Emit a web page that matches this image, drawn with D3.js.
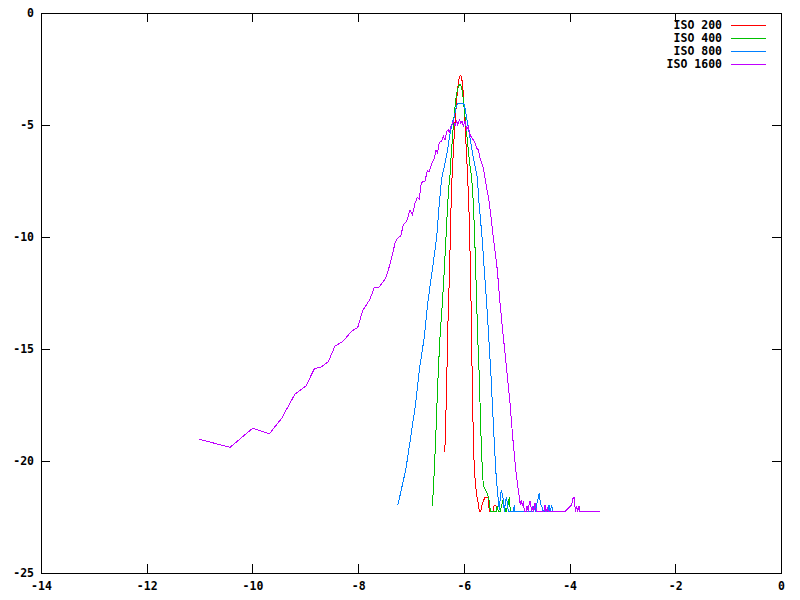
<!DOCTYPE html>
<html><head><meta charset="utf-8">
<script src="https://cdn.jsdelivr.net/npm/d3@7"></script>
<style>body{margin:0;background:#fff}svg{display:block}</style>
</head><body>
<svg id="c" width="800" height="600"></svg>
<script>
const seriesNames = ["ISO 200", "ISO 400", "ISO 800", "ISO 1600"];
const seriesColors = ["#ff0000", "#00c000", "#0080ff", "#c000ff"];
const xTicks = [-14, -12, -10, -8, -6, -4, -2, 0];
const yTicks = [0, -5, -10, -15, -20, -25];

const iso200X = [-6.36,-6.351,-6.332,-6.313,-6.294,-6.275,-6.256,-6.237,-6.218,-6.199,-6.181,-6.162,-6.143,-6.124,-6.105,-6.086,-6.067,-6.048,-6.029,-6.010,-5.991,-5.972,-5.954,-5.935,-5.916,-5.897,-5.878,-5.859,-5.840,-5.821,-5.802,-5.783,-5.764,-5.745,-5.726,-5.707,-5.681,-5.662,-5.632,-5.600,-5.543,-5.518,-5.492,-5.448,-5.429,-5.392,-5.373];
const iso200Y = [-19.60,-18.75,-17.28,-15.13,-13.13,-11.92,-10.00,-8.13,-7.00,-6.20,-5.40,-4.70,-4.10,-3.55,-3.15,-2.88,-2.78,-2.82,-3.10,-3.60,-4.30,-5.20,-6.10,-7.00,-8.00,-9.24,-11.16,-13.57,-16.70,-18.93,-20.40,-20.94,-21.38,-21.74,-21.88,-22.26,-22.26,-22.00,-21.80,-21.61,-21.61,-22.26,-22.26,-22.26,-22.00,-22.00,-22.26];

const iso400X = [-6.597,-6.578,-6.559,-6.532,-6.508,-6.483,-6.451,-6.407,-6.370,-6.338,-6.305,-6.281,-6.262,-6.243,-6.218,-6.199,-6.173,-6.148,-6.124,-6.105,-6.086,-6.067,-6.048,-6.029,-6.010,-5.991,-5.972,-5.954,-5.935,-5.916,-5.897,-5.878,-5.851,-5.821,-5.795,-5.776,-5.757,-5.738,-5.713,-5.694,-5.675,-5.651,-5.632,-5.594,-5.556,-5.537,-5.518,-5.499,-5.392,-5.367,-5.348,-5.316,-5.284,-5.259,-5.235,-5.202,-5.165,-5.140,-5.121,-5.045];
const iso400Y = [-22.01,-21.29,-20.40,-18.93,-17.41,-15.94,-14.46,-12.95,-11.47,-10.00,-8.48,-7.68,-7.23,-6.47,-5.67,-5.00,-4.33,-3.79,-3.44,-3.30,-3.21,-3.21,-3.30,-3.53,-3.88,-4.33,-4.78,-5.22,-5.67,-6.12,-6.56,-6.92,-7.37,-8.48,-10.00,-11.47,-12.95,-14.46,-15.94,-17.41,-18.93,-20.40,-21.07,-21.29,-21.47,-21.61,-21.83,-22.26,-22.26,-22.01,-22.26,-22.26,-21.96,-21.74,-22.01,-22.26,-21.96,-21.61,-22.26,-22.26];

const iso800X = [-7.259,-7.240,-7.100,-7.005,-6.911,-6.843,-6.748,-6.684,-6.597,-6.513,-6.464,-6.419,-6.389,-6.356,-6.324,-6.294,-6.275,-6.249,-6.230,-6.211,-6.186,-6.167,-6.148,-6.124,-6.105,-6.067,-6.022,-5.997,-5.972,-5.946,-5.916,-5.883,-5.851,-5.821,-5.783,-5.745,-5.713,-5.656,-5.613,-5.568,-5.530,-5.492,-5.462,-5.429,-5.397,-5.367,-5.348,-5.329,-5.310,-5.291,-5.272,-5.253,-5.235,-5.216,-5.197,-5.178,-5.159,-5.064,-5.045,-5.032,-4.686,-4.667,-4.648,-4.591,-4.572,-4.553,-4.516,-4.497,-4.408,-4.389,-4.370,-4.338,-4.319];
const iso800Y = [-21.96,-21.88,-20.40,-18.93,-17.41,-15.94,-14.46,-12.95,-11.47,-10.00,-8.48,-7.37,-7.05,-6.70,-6.33,-5.88,-5.58,-5.27,-5.04,-4.82,-4.69,-4.46,-4.24,-4.09,-4.02,-4.02,-4.02,-4.09,-4.32,-4.69,-5.13,-5.58,-6.03,-6.47,-6.92,-7.37,-8.48,-10.00,-11.47,-12.95,-14.46,-15.94,-17.41,-18.93,-20.40,-21.29,-21.74,-22.19,-21.61,-21.29,-21.47,-21.74,-22.26,-21.88,-21.61,-21.88,-22.26,-22.26,-21.96,-22.26,-22.26,-21.88,-22.26,-21.61,-21.43,-21.88,-22.10,-22.26,-22.26,-21.96,-22.26,-21.96,-22.26];

const iso1600X = [-11.005,-10.424,-9.995,-9.681,-9.446,-9.195,-8.987,-8.830,-8.690,-8.565,-8.438,-8.292,-8.122,-8.009,-7.914,-7.776,-7.695,-7.606,-7.492,-7.448,-7.384,-7.302,-7.259,-7.195,-7.145,-7.081,-7.019,-6.975,-6.924,-6.880,-6.843,-6.816,-6.797,-6.735,-6.691,-6.653,-6.608,-6.564,-6.527,-6.502,-6.483,-6.464,-6.419,-6.389,-6.356,-6.324,-6.294,-6.275,-6.249,-6.224,-6.199,-6.167,-6.135,-6.116,-6.086,-6.059,-6.035,-6.010,-5.978,-5.946,-5.916,-5.883,-5.851,-5.821,-5.789,-5.757,-5.726,-5.694,-5.662,-5.632,-5.600,-5.518,-5.443,-5.367,-5.316,-5.253,-5.189,-5.127,-5.076,-5.019,-4.970,-4.951,-4.932,-4.913,-4.894,-4.875,-4.856,-4.824,-4.805,-4.780,-4.762,-4.743,-4.716,-4.698,-4.678,-4.654,-4.622,-4.484,-4.465,-4.446,-4.421,-4.402,-4.086,-3.992,-3.960,-3.929,-3.911,-3.891,-3.865,-3.846,-3.821,-3.802,-3.424];
const iso1600Y = [-19.03,-19.39,-18.54,-18.79,-18.09,-17.01,-16.65,-15.89,-15.79,-15.57,-14.87,-14.67,-14.20,-14.05,-13.29,-12.78,-12.25,-12.25,-11.89,-11.62,-11.10,-10.28,-10.06,-9.96,-9.46,-9.29,-8.79,-9.02,-8.50,-8.23,-8.32,-7.75,-7.56,-7.50,-7.04,-7.08,-6.71,-6.53,-6.12,-6.24,-6.04,-5.77,-5.73,-5.50,-5.66,-5.28,-5.21,-5.36,-5.06,-4.99,-4.83,-5.06,-4.83,-4.99,-4.76,-4.91,-4.81,-5.06,-4.83,-5.21,-5.06,-5.43,-5.58,-5.66,-5.80,-6.03,-6.10,-6.47,-6.70,-6.92,-7.37,-8.48,-10.00,-11.47,-12.95,-14.46,-15.94,-17.41,-18.93,-20.40,-21.29,-21.61,-21.96,-21.74,-22.01,-21.79,-22.26,-22.26,-22.01,-22.26,-21.83,-21.83,-22.26,-22.01,-22.26,-21.88,-22.26,-22.26,-21.96,-22.26,-22.10,-22.26,-22.26,-22.04,-21.96,-21.61,-21.61,-22.26,-22.01,-22.26,-22.01,-22.26,-22.26];

const seriesX = [iso200X, iso400X, iso800X, iso1600X];
const seriesY = [iso200Y, iso400Y, iso800Y, iso1600Y];

const L = 41, R = 781, T = 13, B = 573;
const FONT = "'DejaVu Sans Mono', monospace";
const svg = d3.select("#c");
const x = d3.scaleLinear().domain([-14, 0]).range([L, R]);
const y = d3.scaleLinear().domain([-25, 0]).range([B, T]);
const fmt = d => String(d);

function styleAxis(g) {
  g.select(".domain").remove();
  g.selectAll(".tick line").attr("stroke", "#000").attr("shape-rendering", "crispEdges");
  g.selectAll(".tick text").attr("fill", "#000").attr("font-family", FONT).attr("font-weight", "bold").attr("font-size", "11.5px");
}
svg.append("g").attr("transform", `translate(0,${B})`)
  .call(d3.axisBottom(x).tickValues(xTicks).tickFormat(fmt).tickSize(-9).tickPadding(9)).call(styleAxis);
svg.append("g").attr("transform", `translate(0,${T})`)
  .call(d3.axisTop(x).tickValues(xTicks.slice(1, -1)).tickFormat("").tickSize(-9)).call(styleAxis);
svg.append("g").attr("transform", `translate(${L},0)`)
  .call(d3.axisLeft(y).tickValues(yTicks).tickFormat(fmt).tickSize(-9).tickPadding(7)).call(styleAxis);
svg.append("g").attr("transform", `translate(${R},0)`)
  .call(d3.axisRight(y).tickValues(yTicks.slice(1, -1)).tickFormat("").tickSize(-9)).call(styleAxis);

svg.append("rect").attr("x", L).attr("y", T).attr("width", R - L).attr("height", B - T)
  .attr("fill", "none").attr("stroke", "#000").attr("shape-rendering", "crispEdges");

const line = d3.line().x(d => x(d[0])).y(d => y(d[1]));
seriesNames.forEach((name, i) => {
  const pts = seriesX[i].map((v, k) => [v, seriesY[i][k]]);
  svg.append("path").datum(pts).attr("d", line)
    .attr("fill", "none").attr("stroke", seriesColors[i]).attr("stroke-width", 1)
    .attr("shape-rendering", "crispEdges");
});

const leg = svg.append("g");
seriesNames.forEach((name, i) => {
  const yy = 25 + i * 13.1;
  leg.append("text").attr("x", 722).attr("y", yy).attr("dy", "0.35em")
    .attr("text-anchor", "end").attr("font-family", FONT).attr("font-weight", "bold")
    .attr("font-size", "11.5px").attr("fill", "#000").text(name);
  leg.append("line").attr("x1", 731).attr("x2", 766).attr("y1", Math.round(yy) + 0.5).attr("y2", Math.round(yy) + 0.5)
    .attr("stroke", seriesColors[i]).attr("stroke-width", 1);
});
</script>
</body></html>
